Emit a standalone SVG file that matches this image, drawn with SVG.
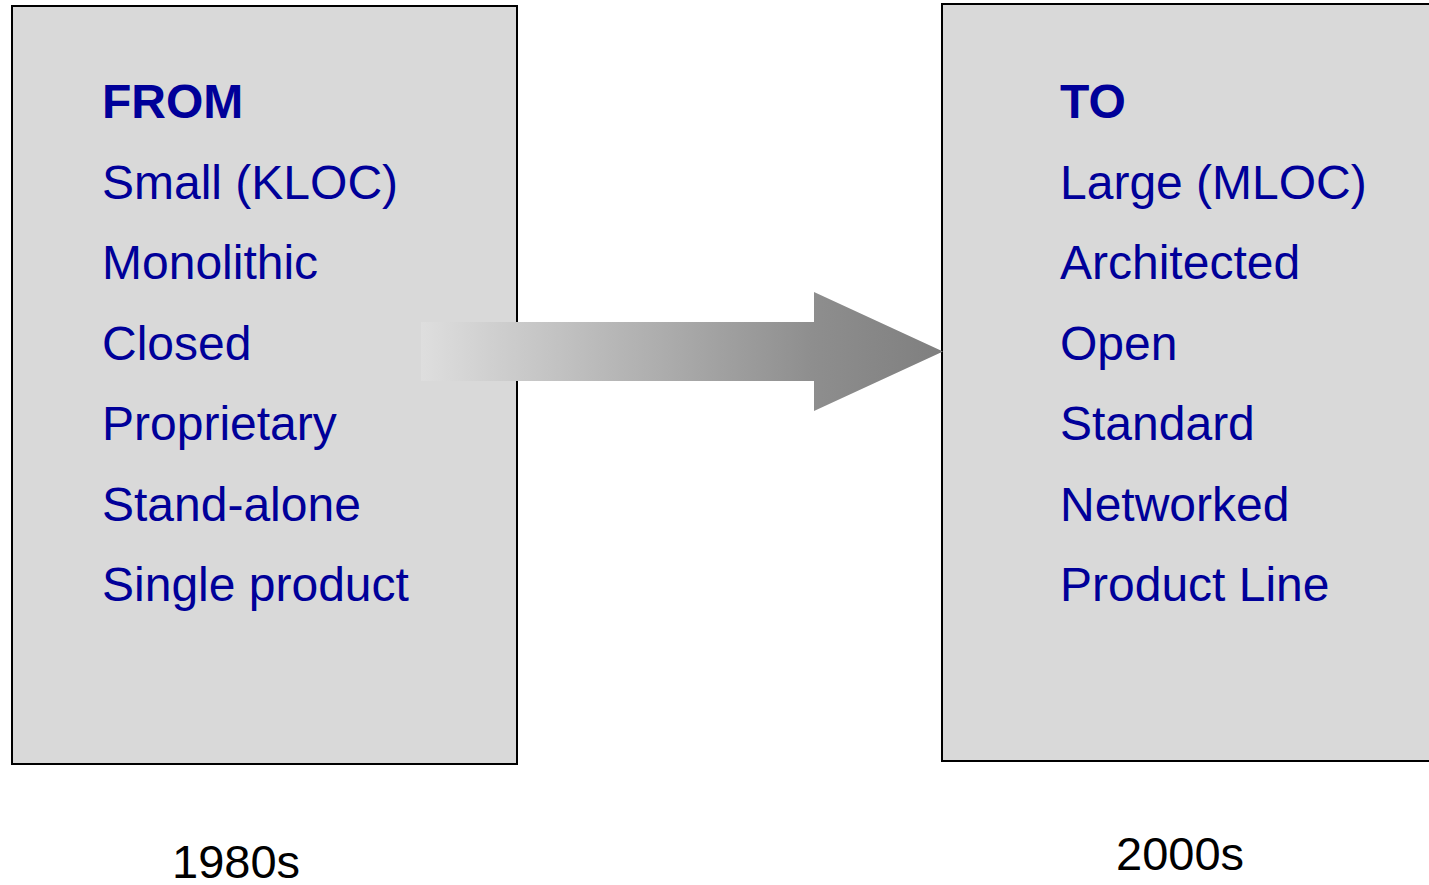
<svg xmlns="http://www.w3.org/2000/svg" width="1429" height="885" viewBox="0 0 1429 885">
<style>
.box{fill:#d9d9d9;stroke:#000;stroke-width:2}
.t{font-family:"Liberation Sans",Arial,sans-serif;font-size:48px;fill:#000099}
.h{font-weight:bold}
.yr{font-family:"Liberation Sans",Arial,sans-serif;font-size:47px;fill:#000}
</style>
<defs>
<linearGradient id="ag" x1="421" y1="0" x2="943" y2="0" gradientUnits="userSpaceOnUse">
<stop offset="0" stop-color="#dedede"/>
<stop offset="0.75" stop-color="#8e8e8e"/>
<stop offset="1" stop-color="#7f7f7f"/>
</linearGradient>
</defs>
<rect width="1429" height="885" fill="#fff"/>
<g id="from">
<rect class="box" x="12" y="6" width="505" height="758"/>
<text class="t h" x="102" y="118">FROM</text>
<text class="t" x="102" y="198.5">Small (KLOC)</text>
<text class="t" x="102" y="279">Monolithic</text>
<text class="t" x="102" y="359.5">Closed</text>
<text class="t" x="102" y="440">Proprietary</text>
<text class="t" x="102" y="520.5">Stand-alone</text>
<text class="t" x="102" y="601">Single product</text>
</g>
<g id="to">
<rect class="box" x="942" y="4" width="500" height="757"/>
<text class="t h" x="1060" y="118">TO</text>
<text class="t" x="1060" y="198.5">Large (MLOC)</text>
<text class="t" x="1060" y="279">Architected</text>
<text class="t" x="1060" y="359.5">Open</text>
<text class="t" x="1060" y="440">Standard</text>
<text class="t" x="1060" y="520.5">Networked</text>
<text class="t" x="1060" y="601">Product Line</text>
</g>
<g id="connectors">
<polygon points="421,322 814,322 814,292 943,351.5 814,411 814,381 421,381" fill="url(#ag)"/>
</g>
<g id="labels">
<text class="yr" x="172" y="878">1980s</text>
<text class="yr" x="1116" y="870">2000s</text>
</g>
</svg>
